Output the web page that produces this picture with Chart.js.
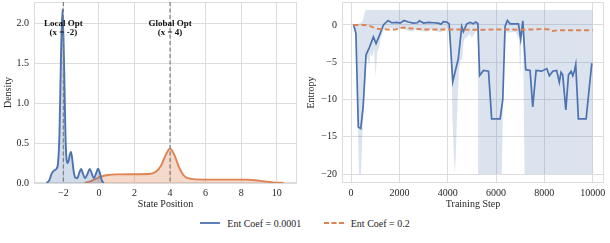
<!DOCTYPE html>
<html>
<head>
<meta charset="utf-8">
<script src="https://cdn.jsdelivr.net/npm/chart.js@4.4.0/dist/chart.umd.min.js"></script>
<style>
  body { margin: 0; background: #fff; width: 610px; height: 243px; position: relative; overflow: hidden; }
  canvas { position: absolute; top: 0; }
  #left { left: 0; }
  #right { left: 300px; }
  #legend { position: absolute; top: 216px; left: 0; width: 610px; text-align: center;
            font-family: "Liberation Serif", "DejaVu Serif", serif; font-size: 10px; color: #262626; }
  #legend span.item { display: inline-flex; align-items: center; margin: 0 10px; }
  #legend svg { margin-right: 7px; }
</style>
</head>
<body>
<canvas id="left" width="300" height="210"></canvas>
<canvas id="right" width="310" height="210"></canvas>
<div id="legend">
  <span class="item"><svg width="20" height="4"><line x1="0" y1="2" x2="20" y2="2" stroke="#4C72B0" stroke-width="1.8"/></svg>Ent Coef = 0.0001</span>
  <span class="item"><svg width="20" height="4"><line x1="0" y1="2" x2="20" y2="2" stroke="#DD8452" stroke-width="1.8" stroke-dasharray="5,2.5"/></svg>Ent Coef = 0.2</span>
</div>
<script>
// --- panneau gauche : densité des positions finales
const kdeLowX = [-2.95, -2.8, -2.65, -2.5, -2.38, -2.3, -2.22, -2.14, -2.05, -1.96, -1.88, -1.82, -1.76, -1.7, -1.64, -1.57, -1.5, -1.42, -1.33, -1.22, -1.1, -1.0, -0.9, -0.78, -0.65, -0.52, -0.4, -0.28, -0.16, -0.05, 0.05, 0.15, 0.26];
const kdeLowY = [0, 0.03, 0.12, 0.16, 0.18, 0.25, 0.6, 1.5, 2.18, 1.5, 0.6, 0.3, 0.25, 0.28, 0.35, 0.39, 0.3, 0.15, 0.07, 0.06, 0.13, 0.175, 0.12, 0.06, 0.11, 0.175, 0.12, 0.06, 0.12, 0.18, 0.13, 0.04, 0];
const kdeHighX = [-0.8, -0.5, -0.2, 0.1, 0.5, 1.0, 2.0, 2.8, 3.2, 3.5, 3.75, 4.0, 4.25, 4.5, 4.75, 5.0, 5.5, 6.5, 7.5, 8.3, 8.8, 9.3, 9.8, 10.4];
const kdeHighY = [0, 0.02, 0.05, 0.08, 0.1, 0.108, 0.11, 0.112, 0.14, 0.22, 0.35, 0.43, 0.35, 0.2, 0.1, 0.06, 0.045, 0.042, 0.042, 0.042, 0.035, 0.02, 0.008, 0];
const optima = [-2, 4];
const optLabels = [['Local Opt', '(x = -2)'], ['Global Opt', '(x = 4)']];
const posTicks = [-2, 0, 2, 4, 6, 8, 10];
const densTicks = [0, 0.5, 1.0, 1.5, 2.0];

// --- panneau droit : entropie pendant l'entraînement
const stepsLow = [100, 200, 300, 400, 500, 620, 760, 925, 1035, 1175, 1340, 1530, 1680, 1890, 2030, 2190, 2370, 2580, 2750, 2830, 3000, 3200, 3400, 3610, 3720, 3820, 3960, 4060, 4210, 4440, 4580, 4650, 4790, 4930, 5060, 5160, 5250, 5320, 5480, 5690, 5820, 6170, 6280, 6375, 6470, 6580, 6930, 7020, 7110, 7230, 7410, 7520, 7660, 7890, 8100, 8210, 8350, 8510, 8620, 8690, 8760, 8890, 9000, 9110, 9180, 9250, 9300, 9410, 9730, 9960, 10000];
const entropyLow = [0.1, -1.1, -13.7, -13.9, -11, -4.0, -3.0, -1.6, -2.5, -1.4, 0, 0.6, 0.3, 0.35, 0.25, 0.6, 0.4, 0.25, 0.3, 0.55, 0.25, 0.35, 0.3, 0.25, 0.1, 0.45, 0.4, 0.15, -7.6, -4.5, -0.2, -0.9, 0.15, 0.35, 0.15, 0.4, 0.2, -6.8, -6.1, -6.2, -12.6, -12.6, -10.0, -0.2, 0.6, 0.15, 0.15, -1.9, 0.55, -6.0, -6.1, -11.0, -6.1, -6.2, -5.85, -6.8, -6.2, -6.1, -7.7, -6.35, -6.7, -11.4, -6.7, -6.2, -6.8, -6.1, -5.3, -12.6, -12.6, -5.25, -5.3];
const bandSteps = [100, 200, 260, 300, 330, 410, 470, 520, 560, 600, 650, 700, 750, 800, 880, 950, 1020, 1080, 1140, 1240, 1340, 1500, 1700, 1900, 2100, 2300, 2500, 2700, 2900, 3100, 3300, 3500, 3700, 3900, 4000, 4060, 4140, 4200, 4290, 4330, 4400, 4470, 4520, 4600, 4650, 4700, 4800, 4900, 5000, 5100, 5200, 5260, 5290, 6210, 6240, 6290, 6340, 6400, 6600, 6800, 6950, 7000, 7050, 7120, 7180, 10000];
const bandHigh = [0.1, 0.1, 0.1, 0.15, 0.2, 0.3, 0.5, 1.0, 1.7, 2.0, 2.0, 2.0, 2.0, 2.0, 2.0, 2.0, 2.0, 2.0, 2.0, 2.0, 2.0, 2.0, 2.0, 2.0, 2.0, 2.0, 2.0, 2.0, 2.0, 2.0, 2.0, 2.0, 2.0, 2.0, 2.0, 2.0, 2.0, 2.0, 2.0, 2.0, 2.0, 2.0, 2.0, 2.0, 2.0, 2.0, 2.0, 2.0, 2.0, 2.0, 2.0, 2.0, 2.0, 2.0, 2.0, 2.0, 2.0, 2.0, 2.0, 2.0, 2.0, 2.0, 2.0, 2.0, 2.0, 2.0];
const bandLow = [0.1, -1.5, -9, -16, -20, -20, -14.5, -11.5, -9, -6.5, -4.3, -4.6, -5.6, -3.8, -4.3, -3.2, -6.9, -3.6, -3.3, -1.6, -0.7, -0.3, -0.5, -0.6, -0.4, -0.7, -0.9, -0.6, -0.8, -0.9, -0.6, -0.8, -1.0, -0.6, -0.3, -1.0, -4, -13, -20, -18, -11, -6, -4.8, -4.6, -2.5, -1.8, -1.6, -1.2, -1.7, -1.2, -0.6, -1.0, -20, -20, -20, -11, -3, -1.0, -1.0, -0.9, -1.8, -6.9, -2.0, -1.2, -20, -20];
const stepsHigh = [100, 300, 500, 700, 900, 1100, 1300, 1500, 1700, 1850, 2000, 2200, 2400, 2600, 2800, 3000, 3500, 4000, 4500, 5000, 5500, 6000, 6500, 7000, 7500, 8000, 8200, 8350, 8600, 9000, 9500, 10000];
const entropyHigh = [0, 0, 0, -0.05, -0.3, -0.5, -0.55, -0.6, -0.65, -0.6, -0.4, -0.35, -0.45, -0.5, -0.55, -0.6, -0.6, -0.6, -0.6, -0.65, -0.65, -0.6, -0.6, -0.65, -0.6, -0.55, -0.6, -0.8, -0.7, -0.7, -0.7, -0.7];
const stepTicks = [0, 2000, 4000, 6000, 8000, 10000];
const entTicks = [-20, -15, -10, -5, 0];

const BLUE = '#4C72B0';
const ORANGE = '#DD8452';
const GRID = '#dcdcdc';
const SERIF = '"Liberation Serif", "DejaVu Serif", serif';

Chart.defaults.color = '#262626';
Chart.defaults.font.family = SERIF;
Chart.defaults.font.size = 10;

const pts = (xs, ys) => xs.map((x, i) => ({ x: x, y: ys[i] }));
const minus = v => String(v).replace('-', '\u2212');

// cadre gris autour de la zone de tracé
const framePlugin = {
  id: 'frame',
  beforeDatasetsDraw(chart) {
    const a = chart.chartArea, ctx = chart.ctx;
    ctx.save();
    ctx.strokeStyle = GRID;
    ctx.lineWidth = 1;
    ctx.strokeRect(Math.round(a.left) + 0.5, Math.round(a.top) + 0.5, Math.round(a.right - a.left) - 1, Math.round(a.bottom - a.top) - 1);
    ctx.restore();
  }
};

// lignes verticales des optima + étiquettes
const optPlugin = {
  id: 'optima',
  afterDatasetsDraw(chart) {
    const a = chart.chartArea, ctx = chart.ctx;
    const xs = chart.scales.x, ys = chart.scales.y;
    ctx.save();
    optima.forEach((o, i) => {
      const px = xs.getPixelForValue(o);
      ctx.strokeStyle = '#7f7f7f';
      ctx.lineWidth = 1.2;
      ctx.setLineDash([4, 2.5]);
      ctx.beginPath();
      ctx.moveTo(px, a.top);
      ctx.lineTo(px, a.bottom);
      ctx.stroke();
      ctx.setLineDash([]);
      ctx.fillStyle = '#111';
      ctx.font = 'bold 9px ' + SERIF;
      ctx.textAlign = 'center';
      ctx.textBaseline = 'middle';
      const py = ys.getPixelForValue(2.0);
      ctx.fillText(optLabels[i][0], px, py);
      ctx.fillText(optLabels[i][1], px, py + 9);
    });
    ctx.restore();
  }
};

function axisX(min, max, ticks, title, fmt) {
  return {
    type: 'linear', min: min, max: max,
    afterBuildTicks: s => { s.ticks = ticks.map(v => ({ value: v })); },
    afterFit: s => { s.height = 27; s.paddingLeft = 0; s.paddingRight = 0; },
    grid: { color: GRID, drawTicks: false },
    border: { display: false },
    ticks: { padding: 4, maxRotation: 0, autoSkip: false, callback: fmt },
    title: { display: true, text: title, padding: { top: 0, bottom: 0 } }
  };
}
function axisY(min, max, ticks, title, width, tpad, fmt) {
  return {
    type: 'linear', min: min, max: max,
    afterBuildTicks: s => { s.ticks = ticks.map(v => ({ value: v })); },
    afterFit: s => { s.width = width; s.paddingTop = 0; s.paddingBottom = 0; },
    grid: { color: GRID, drawTicks: false },
    border: { display: false },
    ticks: { padding: 5, autoSkip: false, callback: fmt },
    title: { display: true, text: title, padding: { top: tpad, bottom: 0 } }
  };
}

new Chart(document.getElementById('left'), {
  type: 'line',
  data: {
    datasets: [
      {
        label: 'Ent Coef = 0.0001', data: pts(kdeLowX, kdeLowY),
        borderColor: BLUE, borderWidth: 1.9, backgroundColor: 'rgba(76,114,176,0.25)',
        fill: 'origin', pointRadius: 0, cubicInterpolationMode: 'monotone', order: 1
      },
      {
        label: 'Ent Coef = 0.2', data: pts(kdeHighX, kdeHighY),
        borderColor: ORANGE, borderWidth: 1.9, backgroundColor: 'rgba(221,132,82,0.3)',
        fill: 'origin', pointRadius: 0, cubicInterpolationMode: 'monotone', order: 2
      }
    ]
  },
  options: {
    responsive: false, animation: false, devicePixelRatio: 1,
    layout: { padding: { top: 2, right: 3, left: 0, bottom: 0 } },
    plugins: { legend: { display: false }, tooltip: { enabled: false } },
    scales: {
      x: axisX(-3.65, 11.14, posTicks, 'State Position', v => minus(v)),
      y: axisY(0, 2.27, densTicks, 'Density', 34, 2, v => v.toFixed(1))
    }
  },
  plugins: [framePlugin, optPlugin]
});

new Chart(document.getElementById('right'), {
  type: 'line',
  data: {
    datasets: [
      {
        label: 'Ent Coef = 0.2', data: pts(stepsHigh, entropyHigh),
        borderColor: ORANGE, borderWidth: 1.9, borderDash: [5, 3], fill: false, pointRadius: 0, order: 1
      },
      {
        label: 'Ent Coef = 0.0001', data: pts(stepsLow, entropyLow),
        borderColor: BLUE, borderWidth: 1.7, fill: false, pointRadius: 0, order: 2
      },
      {
        label: 'band high', data: pts(bandSteps, bandHigh),
        borderWidth: 0, pointRadius: 0, backgroundColor: 'rgba(76,114,176,0.2)', fill: '+1', order: 3
      },
      {
        label: 'band low', data: pts(bandSteps, bandLow),
        borderWidth: 0, pointRadius: 0, fill: false, order: 4
      }
    ]
  },
  options: {
    responsive: false, animation: false, devicePixelRatio: 1,
    layout: { padding: { top: 2, right: 6, left: 0, bottom: 0 } },
    plugins: { legend: { display: false }, tooltip: { enabled: false } },
    scales: {
      x: axisX(-375, 10470, stepTicks, 'Training Step', v => String(v)),
      y: axisY(-21.2, 3.08, entTicks, 'Entropy', 42, 5.5, v => minus(v))
    }
  },
  plugins: [framePlugin]
});
</script>
</body>
</html>
